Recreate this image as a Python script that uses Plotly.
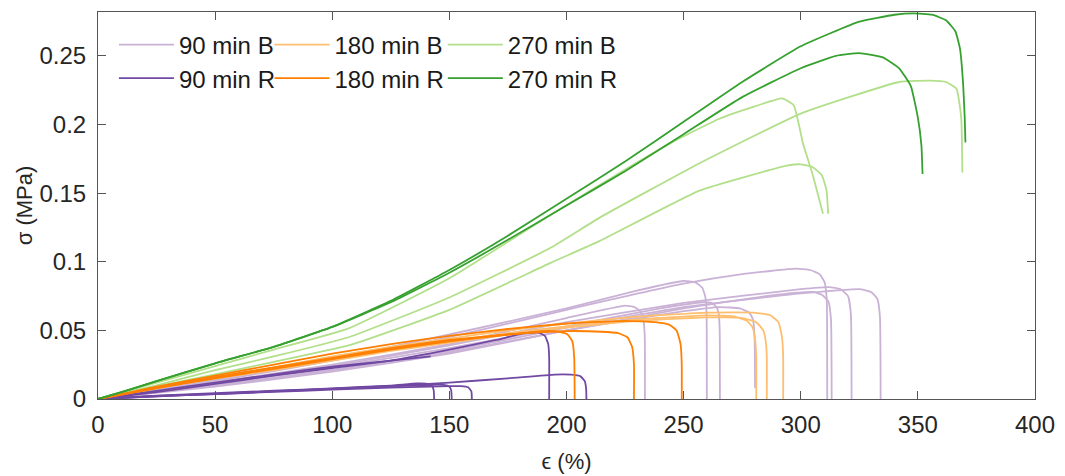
import plotly.graph_objects as go

# ---------------- data (strain %, stress MPa) ----------------
# 270 min R
g_r1_x = [0, 10, 25, 50, 75, 100, 125, 150, 175, 200, 225, 250, 275, 300, 325, 340, 348, 356, 362, 366, 368, 369.3, 370, 370.3]
g_r1_y = [0, 0.005, 0.013, 0.026, 0.038, 0.0525, 0.0715, 0.094, 0.119, 0.146, 0.173, 0.202, 0.231, 0.257, 0.275, 0.280, 0.281, 0.280, 0.276, 0.268, 0.255, 0.230, 0.205, 0.187]
g_r2_x = [0, 10, 25, 50, 75, 100, 125, 150, 175, 200, 225, 250, 275, 300, 315, 325, 335, 342, 347, 350, 351.5, 352]
g_r2_y = [0, 0.005, 0.013, 0.026, 0.038, 0.0525, 0.0705, 0.092, 0.116, 0.141, 0.166, 0.193, 0.220, 0.241, 0.250, 0.252, 0.249, 0.241, 0.228, 0.205, 0.185, 0.164]
# 270 min B
g_b1_x = [0, 25, 50, 75, 107, 150, 193, 220, 245, 265, 280, 292, 297, 301, 305, 309.5]
g_b1_y = [0, 0.012, 0.024, 0.036, 0.0515, 0.088, 0.134, 0.162, 0.187, 0.204, 0.213, 0.219, 0.214, 0.186, 0.164, 0.135]
g_b2_x = [0, 25, 50, 75, 107, 150, 193, 214, 257, 300, 342, 355, 362, 366.5, 368.5, 369]
g_b2_y = [0, 0.010, 0.021, 0.031, 0.045, 0.074, 0.110, 0.132, 0.172, 0.208, 0.231, 0.232, 0.231, 0.226, 0.205, 0.165]
g_b3_x = [0, 25, 50, 75, 107, 150, 193, 214, 257, 294, 300, 305, 309, 311, 311.7]
g_b3_y = [0, 0.009, 0.018, 0.027, 0.039, 0.065, 0.099, 0.115, 0.152, 0.170, 0.171, 0.169, 0.163, 0.152, 0.135]

# 180 min R
o_r1_x = [0, 25, 50, 75, 100, 125, 150, 175, 190, 197, 200.5, 202.5, 203.3, 203.5]
o_r1_y = [0, 0.008, 0.015, 0.022, 0.029, 0.036, 0.042, 0.047, 0.0495, 0.049, 0.047, 0.042, 0.030, 0]
o_r2_x = [0, 25, 50, 75, 100, 125, 150, 175, 200, 215, 222, 226, 228, 228.8, 228.8]
o_r2_y = [0, 0.008, 0.016, 0.023, 0.030, 0.037, 0.043, 0.047, 0.0495, 0.049, 0.048, 0.045, 0.038, 0.025, 0]
o_r3_x = [0, 25, 50, 75, 100, 125, 150, 175, 200, 225, 238, 244, 247, 248.7, 249.2, 249.2]
o_r3_y = [0, 0.009, 0.017, 0.025, 0.033, 0.040, 0.046, 0.051, 0.055, 0.057, 0.056, 0.054, 0.050, 0.040, 0.025, 0]
# 180 min B
o_b1_x = [0, 25, 50, 75, 100, 125, 150, 175, 200, 230, 260, 272, 277, 279.5, 280.7, 281, 281]
o_b1_y = [0, 0.008, 0.015, 0.022, 0.029, 0.036, 0.042, 0.048, 0.053, 0.058, 0.061, 0.060, 0.057, 0.052, 0.040, 0.030, 0]
o_b2_x = [0, 25, 50, 75, 100, 125, 150, 175, 200, 230, 260, 275, 281, 284, 285.2, 285.5, 285.5]
o_b2_y = [0, 0.008, 0.015, 0.021, 0.028, 0.035, 0.041, 0.047, 0.052, 0.057, 0.0595, 0.059, 0.056, 0.050, 0.040, 0.030, 0]
o_b3_x = [0, 25, 50, 75, 100, 125, 150, 175, 200, 230, 260, 280, 287, 290.5, 292, 292.5, 292.5]
o_b3_y = [0, 0.008, 0.016, 0.023, 0.031, 0.038, 0.044, 0.050, 0.055, 0.060, 0.063, 0.063, 0.061, 0.056, 0.045, 0.030, 0]

# 90 min R
p_r1_x = [0, 25, 50, 75, 100, 125, 136, 140, 142.5, 143.3, 143.5]
p_r1_y = [0, 0.0025, 0.0042, 0.006, 0.0078, 0.0098, 0.0113, 0.0112, 0.0098, 0.0065, 0]
p_r2_x = [0, 25, 50, 75, 100, 125, 143, 147.5, 150, 150.8, 151]
p_r2_y = [0, 0.0022, 0.0038, 0.0057, 0.0074, 0.0092, 0.0104, 0.0103, 0.009, 0.006, 0]
p_r3_x = [0, 25, 50, 75, 100, 125, 150, 155, 158, 159.4, 159.6]
p_r3_y = [0, 0.002, 0.0035, 0.0052, 0.0068, 0.0083, 0.0094, 0.0094, 0.0085, 0.0055, 0]
p_r4_x = [0, 25, 50, 75, 100, 125, 150, 175, 195, 202, 206, 207.8, 208.4, 208.5]
p_r4_y = [0, 0.002, 0.0036, 0.0055, 0.0075, 0.0095, 0.012, 0.015, 0.0178, 0.0177, 0.0165, 0.013, 0.007, 0]
p_r5_x = [0, 25, 50, 75, 100, 125, 150, 170, 182, 188, 190.8, 192.2, 192.6, 192.6]
p_r5_y = [0, 0.005, 0.011, 0.017, 0.0225, 0.028, 0.036, 0.043, 0.048, 0.0485, 0.046, 0.040, 0.030, 0]
p_r6_x = [0, 25, 50, 75, 100, 125, 142]
p_r6_y = [0, 0.006, 0.012, 0.018, 0.0235, 0.028, 0.031]
# 90 min B
p_b1_x = [0, 50, 100, 150, 200, 225, 229, 231.5, 232.8, 233.4, 233.5]
p_b1_y = [0, 0.012, 0.025, 0.040, 0.059, 0.068, 0.067, 0.064, 0.058, 0.046, 0]
p_b2_x = [0, 50, 100, 150, 200, 230, 250, 255, 258, 259.3, 259.8, 259.9]
p_b2_y = [0, 0.014, 0.029, 0.047, 0.066, 0.079, 0.086, 0.085, 0.081, 0.074, 0.062, 0]
p_b3_x = [0, 50, 100, 150, 200, 240, 258, 262, 264, 265, 265.4, 265.5]
p_b3_y = [0, 0.011, 0.023, 0.037, 0.053, 0.066, 0.0705, 0.070, 0.067, 0.062, 0.050, 0]
p_b4_x = [0, 50, 100, 150, 200, 250, 265, 274, 278, 279.6, 280.3, 280.5]
p_b4_y = [0, 0.010, 0.021, 0.034, 0.050, 0.064, 0.067, 0.066, 0.063, 0.058, 0.045, 0.008]
p_b5_x = [0, 50, 100, 150, 200, 250, 275, 298, 304, 308, 310.2, 311.1, 311.3]
p_b5_y = [0, 0.013, 0.028, 0.045, 0.065, 0.084, 0.091, 0.095, 0.094, 0.091, 0.085, 0.072, 0]
p_b6_x = [0, 50, 100, 150, 200, 250, 290, 305, 309, 311.8, 312.9, 313.2]
p_b6_y = [0, 0.009, 0.020, 0.033, 0.050, 0.066, 0.076, 0.078, 0.076, 0.071, 0.058, 0]
p_b7_x = [0, 50, 100, 150, 200, 250, 300, 312, 317, 320.2, 321.4, 321.7]
p_b7_y = [0, 0.011, 0.024, 0.039, 0.056, 0.070, 0.080, 0.0815, 0.080, 0.075, 0.062, 0]
p_b8_x = [0, 50, 100, 150, 200, 250, 300, 325, 330, 332.7, 333.8, 334.1]
p_b8_y = [0, 0.010, 0.021, 0.035, 0.052, 0.067, 0.077, 0.080, 0.078, 0.073, 0.060, 0]

x_ticks = [0, 50, 100, 150, 200, 250, 300, 350, 400]
y_ticks = [0, 0.05, 0.1, 0.15, 0.2, 0.25]
y_tick_text = ["0", "0.05", "0.1", "0.15", "0.2", "0.25"]

groups = [
    # name, colour, legend id, curves
    ("90 min B", "#cab2d6", "legend", [(p_b1_x, p_b1_y), (p_b2_x, p_b2_y), (p_b3_x, p_b3_y), (p_b4_x, p_b4_y),
                                       (p_b5_x, p_b5_y), (p_b6_x, p_b6_y), (p_b7_x, p_b7_y), (p_b8_x, p_b8_y)]),
    ("180 min B", "#fdbf6f", "legend2", [(o_b1_x, o_b1_y), (o_b2_x, o_b2_y), (o_b3_x, o_b3_y)]),
    ("270 min B", "#b2df8a", "legend3", [(g_b1_x, g_b1_y), (g_b2_x, g_b2_y), (g_b3_x, g_b3_y)]),
    ("90 min R", "#7149a3", "legend4", [(p_r1_x, p_r1_y), (p_r2_x, p_r2_y), (p_r3_x, p_r3_y), (p_r4_x, p_r4_y),
                                       (p_r5_x, p_r5_y), (p_r6_x, p_r6_y)]),
    ("180 min R", "#ff7f00", "legend5", [(o_r1_x, o_r1_y), (o_r2_x, o_r2_y), (o_r3_x, o_r3_y)]),
    ("270 min R", "#36a12f", "legend6", [(g_r1_x, g_r1_y), (g_r2_x, g_r2_y)]),
]

fig = go.Figure()
for name, color, leg, curves in groups:
    for i, (xs, ys) in enumerate(curves):
        fig.add_trace(go.Scatter(
            x=xs, y=ys, mode="lines", name=name, legendgroup=name,
            showlegend=(i == 0), legend=leg,
            line=dict(color=color, width=1.8, shape="spline", smoothing=0.4),
        ))

axis_col = "#555555"


def leg(x, y):
    return dict(orientation="h", x=x, y=y, xanchor="left", yanchor="top", itemwidth=55,
                font=dict(size=24, color="#1a1a1a"), bgcolor="rgba(0,0,0,0)")


col_x = [0.017, 0.183, 0.368]
row_y = [0.973, 0.886]

fig.update_layout(
    width=1065, height=476,
    margin=dict(l=90, r=38, t=4, b=85, autoexpand=False),
    paper_bgcolor="white", plot_bgcolor="white",
    font=dict(family="Liberation Sans, Arial, sans-serif", color="#262626", size=24),
    showlegend=True,
    legend=leg(col_x[0], row_y[0]),
    legend2=leg(col_x[1], row_y[0]),
    legend3=leg(col_x[2], row_y[0]),
    legend4=leg(col_x[0], row_y[1]),
    legend5=leg(col_x[1], row_y[1]),
    legend6=leg(col_x[2], row_y[1]),
    xaxis=dict(range=[0, 400], tickvals=x_ticks, showgrid=False, zeroline=False, automargin=False,
               showline=True, linecolor=axis_col, linewidth=1, mirror="ticks",
               ticks="inside", ticklen=8, tickcolor=axis_col, ticklabelstandoff=4,
               tickfont=dict(size=24, color="#262626"),
               title=dict(text="ϵ (%)", font=dict(size=22, color="#262626"), standoff=16)),
    yaxis=dict(range=[0, 0.282], tickvals=y_ticks, ticktext=y_tick_text, showgrid=False, zeroline=False,
               automargin=False,
               showline=True, linecolor=axis_col, linewidth=1, mirror="ticks",
               ticks="inside", ticklen=8, tickcolor=axis_col, ticklabelstandoff=6,
               tickfont=dict(size=24, color="#262626"),
               title=dict(text="σ (MPa)", font=dict(size=22, color="#262626"), standoff=0)),
)

fig.write_html("out.html")
